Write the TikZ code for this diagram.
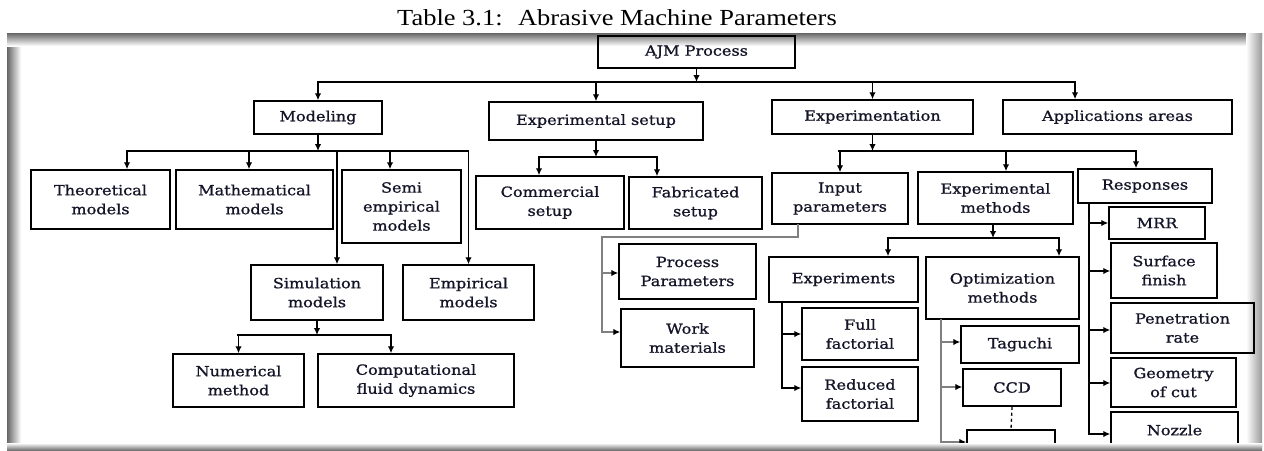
\documentclass[tikz,border=0pt]{standalone}
\usepackage{fontspec}
\usetikzlibrary{arrows.meta}
\newfontfamily\dfont[FakeStretch=1.15,FakeBold=1]{DejaVu Serif}
\newfontfamily\capfont[FakeStretch=1.15]{Liberation Serif}
\definecolor{txt}{RGB}{20,20,40}
\newcommand\mybox[6]{\node[box, minimum width={#4pt-#2pt}, minimum height={#5pt-#3pt}] (#1) at ({(#2+#4)/2},{(#3+#5)/2}) {#6};}
\begin{document}
\begin{tikzpicture}[x=1pt,y=-1pt,
  box/.style={draw, line width=1.5pt, inner sep=0pt, align=center,
    font=\dfont\fontsize{14}{19}\selectfont, text=txt},
  ln/.style={line width=1.6pt, line cap=rect},
  gln/.style={line width=1.3pt, draw=black!50, line cap=rect},
  arr/.style={line width=1.6pt, -{Latex[length=7pt,width=6.5pt]}},
  garr/.style={line width=1.3pt, draw=black!50, -{Latex[length=7pt,width=6.5pt,color=black]}}]
\useasboundingbox (0,0) rectangle (1264,450);
% caption
\node[anchor=base, inner sep=0pt, font=\capfont\fontsize{23}{27}\selectfont] (cap) at (617,25) {Table 3.1:~ Abrasive Machine Parameters};
% frame shading (background)
\shade[left color=black!60, right color=white] (7,33) rectangle (21,448);
\shade[top color=black!60, bottom color=white] (7,33) rectangle (1262,46);
\shade[left color=white, right color=black!40] (1246,33) rectangle (1262,448);
\begin{scope}
\clip (9,34) rectangle (1258,447);
% boxes
\mybox{ajm}{598}{36}{795}{68}{AJM Process}
\mybox{model}{254}{101}{382}{134}{Modeling}
\mybox{expset}{489}{102}{703}{140}{Experimental setup}
\mybox{expn}{772}{100}{973}{134}{Experimentation}
\mybox{app}{1003}{100}{1232}{134}{Applications areas}
\mybox{theo}{31}{170}{170}{229}{Theoretical\\models}
\mybox{math}{176}{170}{333}{229}{Mathematical\\models}
\mybox{semi}{342}{170}{461}{243}{Semi\\empirical\\models}
\mybox{sim}{251}{265}{383}{320}{Simulation\\models}
\mybox{emp}{403}{265}{534}{320}{Empirical\\models}
\mybox{num}{173}{354}{304}{407}{Numerical\\method}
\mybox{cfd}{318}{354}{514}{407}{Computational\\fluid dynamics}
\mybox{comm}{476}{176}{624}{229}{Commercial\\setup}
\mybox{fab}{629}{177}{762}{229}{Fabricated\\setup}
\mybox{inp}{772}{173}{908}{224}{Input\\parameters}
\mybox{proc}{619}{244}{756}{299}{Process\\Parameters}
\mybox{work}{621}{309}{754}{367}{Work\\materials}
\mybox{expm}{918}{172}{1073}{224}{Experimental\\methods}
\mybox{resp}{1078}{169}{1212}{203}{Responses}
\mybox{expts}{769}{257}{918}{302}{Experiments}
\mybox{full}{802}{308}{918}{360}{Full\\factorial}
\mybox{red}{802}{367}{918}{421}{Reduced\\factorial}
\mybox{opt}{926}{257}{1079}{319}{Optimization\\methods}
\mybox{tag}{961}{326}{1079}{363}{Taguchi}
\mybox{ccd}{963}{369}{1061}{406}{CCD}
\mybox{etc}{967}{430}{1055}{466}{etc}
\mybox{mrr}{1109}{207}{1205}{239}{MRR}
\mybox{surf}{1111}{243}{1217}{298}{Surface\\finish}
\mybox{pen}{1111}{303}{1254}{353}{Penetration\\rate}
\mybox{geo}{1111}{358}{1236}{407}{Geometry\\of cut}
\mybox{noz}{1111}{412}{1238}{467}{Nozzle\\wear}
% level 1
\coordinate (t0) at (696,82);
\draw[arr] (ajm.south) -- (ajm.south |- t0);
\draw[ln] (model.north |- t0) -- (1075,82);
\draw[arr] (model.north |- t0) -- (model.north);
\draw[arr] (expset.north |- t0) -- (expset.north);
\draw[arr] (expn.north |- t0) -- (expn.north);
\draw[arr] (1075,82) -- (1075,0 |- app.north);
% modeling
\draw[arr] (model.south) -- (model.south |- 0,151);
\draw[ln] (127,151) -- (468,151);
\draw[arr] (127,151) -- (127,0 |- theo.north);
\draw[arr] (249,151) -- (249,0 |- math.north);
\draw[arr] (390,151) -- (390,0 |- semi.north);
\draw[arr] (337,151) -- (337,0 |- sim.north);
\draw[arr] (emp.north |- 0,151) -- (emp.north);
% simulation
\draw[arr] (sim.south) -- (sim.south |- 0,335);
\draw[ln] (238,335) -- (391,335);
\draw[arr] (num.north |- 0,335) -- (num.north);
\draw[arr] (391,335) -- (391,0 |- cfd.north);
% experimental setup
\draw[arr] (expset.south) -- (expset.south |- 0,157);
\draw[ln] (539,157) -- (657,157);
\draw[arr] (539,157) -- (539,0 |- comm.north);
\draw[arr] (657,157) -- (657,0 |- fab.north);
% experimentation
\draw[arr] (expn.south) -- (expn.south |- 0,151);
\draw[ln] (839,151) -- (1136,151);
\draw[arr] (inp.north |- 0,151) -- (inp.north);
\draw[arr] (1006,151) -- (1006,0 |- expm.north);
\draw[arr] (1136,151) -- (1136,0 |- resp.north);
% input parameters
\draw[gln] (798,0 |- inp.south) -- (798,237) -- (602,237) -- (602,332);
\draw[garr] (602,273) -- (proc.west |- 0,273);
\draw[garr] (602,332) -- (work.west |- 0,332);
% experimental methods
\draw[arr] (993,0 |- expm.south) -- (993,238);
\draw[ln] (888,238) -- (1059,238);
\draw[arr] (888,238) -- (888,0 |- expts.north);
\draw[arr] (1059,238) -- (1059,0 |- opt.north);
% experiments
\draw[ln] (782,0 |- expts.south) -- (782,388);
\draw[arr] (782,334) -- (full.west |- 0,334);
\draw[arr] (782,388) -- (red.west |- 0,388);
% optimization
\draw[gln] (941,0 |- opt.south) -- (941,442);
\draw[garr] (941,342) -- (tag.west |- 0,342);
\draw[garr] (941,387) -- (ccd.west |- 0,387);
\draw[garr] (941,442) -- (etc.west |- 0,442);
\draw[line width=1.3pt, dashed] (ccd.south) -- (etc.north);
% responses
\draw[ln] (1089,0 |- resp.south) -- (1089,434);
\draw[arr] (1089,223) -- (mrr.west |- 0,223);
\draw[arr] (1089,271) -- (surf.west |- 0,271);
\draw[arr] (1089,330) -- (pen.west |- 0,330);
\draw[arr] (1089,383) -- (geo.west |- 0,383);
\draw[arr] (1089,434) -- (noz.west |- 0,434);
\end{scope}
% bottom band of frame
\shade[top color=white, bottom color=black!55] (7,443) rectangle (1262,450);
\end{tikzpicture}
\end{document}
